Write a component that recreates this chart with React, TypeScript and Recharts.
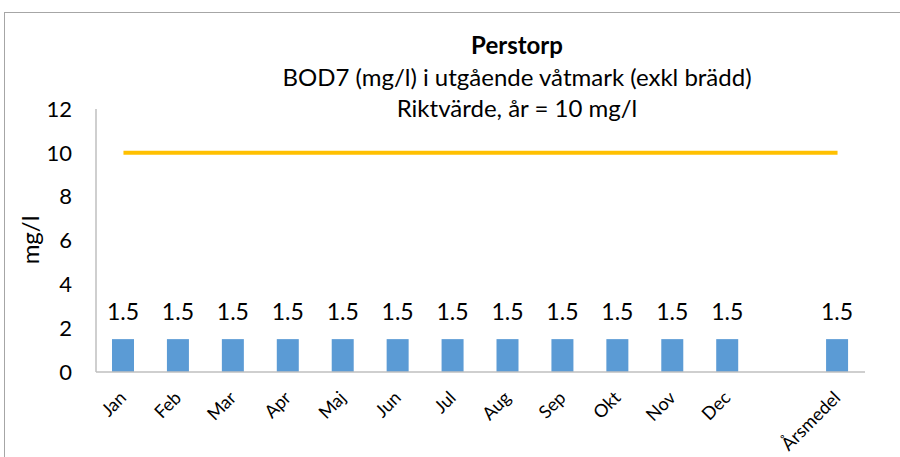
import React from 'react';
import { ComposedChart, Bar, Line, XAxis, YAxis, LabelList } from 'recharts';

const categories = ['Jan', 'Feb', 'Mar', 'Apr', 'Maj', 'Jun', 'Jul', 'Aug', 'Sep', 'Okt', 'Nov', 'Dec', '', 'Årsmedel'];
const bodValues: (number | null)[] = [1.5, 1.5, 1.5, 1.5, 1.5, 1.5, 1.5, 1.5, 1.5, 1.5, 1.5, 1.5, null, 1.5];
const guideValues = [10, 10, 10, 10, 10, 10, 10, 10, 10, 10, 10, 10, 10, 10];
const yTicks = [0, 2, 4, 6, 8, 10, 12];

const titleLines = ['Perstorp', 'BOD7 (mg/l) i utgående våtmark (exkl brädd)', 'Riktvärde, år = 10 mg/l'];
const yAxisTitle = 'mg/l';

const data = categories.map((c, i) => ({ month: c, value: bodValues[i], target: guideValues[i] }));

const FONT = 'Lato, "Liberation Sans", sans-serif';

const XTick = (props: any) => {
  const { x, y, payload } = props;
  return (
    <text
      transform={`translate(${x + 4},${y + 19}) rotate(-45)`}
      textAnchor="end"
      fontSize={18}
      fontFamily={FONT}
      fill="#000"
    >
      {payload.value}
    </text>
  );
};

export default function App() {
  return (
    <div style={{ position: 'absolute', left: 0, top: 0, width: 900, height: 457, background: '#fff', fontFamily: FONT, overflow: 'hidden' }}>
      <div style={{ position: 'absolute', left: 4, top: 12, width: 920, height: 460, borderLeft: '1px solid #a6a6a6', borderTop: '1px solid #a6a6a6' }} />
      <ComposedChart width={900} height={457} data={data} margin={{ top: 109, right: 35, bottom: 0, left: 0 }}>
        <XAxis
          dataKey="month"
          interval={0}
          tickLine={false}
          axisLine={{ stroke: '#bfbfbf', strokeWidth: 1.5 }}
          tick={<XTick />}
          height={85}
        />
        <YAxis
          domain={[0, 12]}
          ticks={yTicks}
          interval={0}
          width={96}
          tickLine={false}
          axisLine={{ stroke: '#bfbfbf', strokeWidth: 1.5 }}
          tick={{ fontSize: 22, fill: '#000', fontFamily: FONT }}
          tickMargin={18}
        />
        <Bar dataKey="value" fill="#5b9bd5" barSize={22} isAnimationActive={false}>
          <LabelList
            dataKey="value"
            position="top"
            offset={19}
            fontSize={23}
            fill="#000"
            fontFamily={FONT}
            formatter={(v: any) => (v == null ? '' : v)}
          />
        </Bar>
        <Line dataKey="target" stroke="#ffc000" strokeWidth={4} dot={false} isAnimationActive={false} />
      </ComposedChart>
      <div style={{ position: 'absolute', left: 517, top: 45, transform: 'translate(-50%, -50%)', fontSize: 24, fontWeight: 'bold', whiteSpace: 'nowrap', lineHeight: 1 }}>
        {titleLines[0]}
      </div>
      <div style={{ position: 'absolute', left: 517, top: 77, transform: 'translate(-50%, -50%)', fontSize: 24, whiteSpace: 'nowrap', lineHeight: 1 }}>
        {titleLines[1]}
      </div>
      <div style={{ position: 'absolute', left: 517, top: 108, transform: 'translate(-50%, -50%)', fontSize: 24, whiteSpace: 'nowrap', lineHeight: 1 }}>
        {titleLines[2]}
      </div>
      <div style={{ position: 'absolute', left: 30, top: 240, transform: 'translate(-50%, -50%) rotate(-90deg)', fontSize: 24, whiteSpace: 'nowrap', lineHeight: 1 }}>
        {yAxisTitle}
      </div>
    </div>
  );
}
